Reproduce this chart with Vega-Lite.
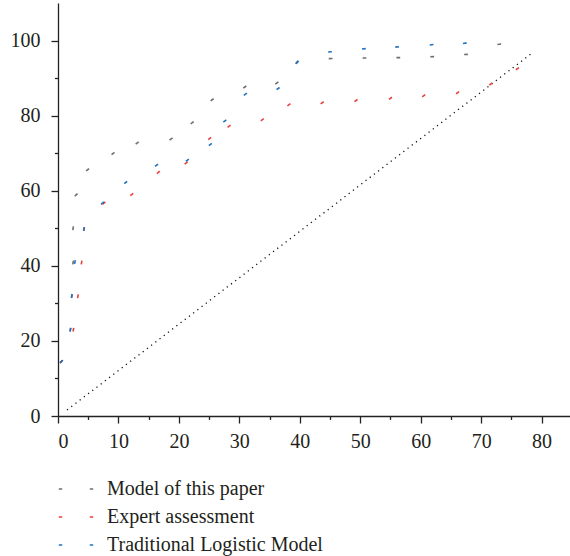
{
  "$schema": "https://vega.github.io/schema/vega-lite/v6.json",
  "description": "Three dashed curves and a dotted diagonal",
  "autosize": {"type": "none"},
  "padding": {"left": 58, "top": 3, "right": 0, "bottom": 140},
  "width": 512,
  "height": 413,
  "datasets": {
    "curves": [
      {"series": "Model of this paper", "x": 0.56, "y": 14.5},
      {"series": "Model of this paper", "x": 2.05, "y": 23.0},
      {"series": "Model of this paper", "x": 2.3, "y": 31.9},
      {"series": "Model of this paper", "x": 2.5, "y": 40.9},
      {"series": "Model of this paper", "x": 2.5, "y": 50.0},
      {"series": "Model of this paper", "x": 3.0, "y": 58.9},
      {"series": "Model of this paper", "x": 4.9, "y": 65.6},
      {"series": "Model of this paper", "x": 9.1, "y": 69.9},
      {"series": "Model of this paper", "x": 13.1, "y": 72.7},
      {"series": "Model of this paper", "x": 18.7, "y": 73.8},
      {"series": "Model of this paper", "x": 22.2, "y": 78.1},
      {"series": "Model of this paper", "x": 25.5, "y": 84.2},
      {"series": "Model of this paper", "x": 30.9, "y": 87.6},
      {"series": "Model of this paper", "x": 36.2, "y": 88.7},
      {"series": "Model of this paper", "x": 39.5, "y": 94.2},
      {"series": "Model of this paper", "x": 45.1, "y": 95.2},
      {"series": "Model of this paper", "x": 50.7, "y": 95.35},
      {"series": "Model of this paper", "x": 56.3, "y": 95.45},
      {"series": "Model of this paper", "x": 61.9, "y": 95.7},
      {"series": "Model of this paper", "x": 67.5, "y": 96.3},
      {"series": "Model of this paper", "x": 73.0, "y": 99.0},
      {"series": "Expert assessment", "x": 0.56, "y": 14.5},
      {"series": "Expert assessment", "x": 2.55, "y": 23.0},
      {"series": "Expert assessment", "x": 3.3, "y": 31.9},
      {"series": "Expert assessment", "x": 3.9, "y": 40.9},
      {"series": "Expert assessment", "x": 4.3, "y": 49.8},
      {"series": "Expert assessment", "x": 7.6, "y": 56.7},
      {"series": "Expert assessment", "x": 12.2, "y": 59.0},
      {"series": "Expert assessment", "x": 16.6, "y": 64.9},
      {"series": "Expert assessment", "x": 21.2, "y": 67.4},
      {"series": "Expert assessment", "x": 25.1, "y": 73.9},
      {"series": "Expert assessment", "x": 28.3, "y": 77.2},
      {"series": "Expert assessment", "x": 33.8, "y": 78.9},
      {"series": "Expert assessment", "x": 38.2, "y": 82.9},
      {"series": "Expert assessment", "x": 43.7, "y": 83.4},
      {"series": "Expert assessment", "x": 49.3, "y": 84.0},
      {"series": "Expert assessment", "x": 55.0, "y": 84.6},
      {"series": "Expert assessment", "x": 60.5, "y": 85.3},
      {"series": "Expert assessment", "x": 66.1, "y": 86.1},
      {"series": "Expert assessment", "x": 71.6, "y": 88.4},
      {"series": "Expert assessment", "x": 76.0, "y": 92.5},
      {"series": "Traditional Logistic Model", "x": 0.56, "y": 14.5},
      {"series": "Traditional Logistic Model", "x": 2.05, "y": 23.0},
      {"series": "Traditional Logistic Model", "x": 2.27, "y": 32.0},
      {"series": "Traditional Logistic Model", "x": 2.8, "y": 41.0},
      {"series": "Traditional Logistic Model", "x": 4.3, "y": 49.8},
      {"series": "Traditional Logistic Model", "x": 7.35, "y": 56.7},
      {"series": "Traditional Logistic Model", "x": 11.2, "y": 62.2},
      {"series": "Traditional Logistic Model", "x": 16.3, "y": 66.8},
      {"series": "Traditional Logistic Model", "x": 21.4, "y": 68.1},
      {"series": "Traditional Logistic Model", "x": 25.2, "y": 72.3},
      {"series": "Traditional Logistic Model", "x": 27.6, "y": 78.6},
      {"series": "Traditional Logistic Model", "x": 31.0, "y": 85.7},
      {"series": "Traditional Logistic Model", "x": 36.4, "y": 87.2},
      {"series": "Traditional Logistic Model", "x": 39.6, "y": 94.2},
      {"series": "Traditional Logistic Model", "x": 45.0, "y": 97.0},
      {"series": "Traditional Logistic Model", "x": 50.6, "y": 97.8},
      {"series": "Traditional Logistic Model", "x": 56.1, "y": 98.3},
      {"series": "Traditional Logistic Model", "x": 61.8, "y": 98.9},
      {"series": "Traditional Logistic Model", "x": 67.3, "y": 99.3}
    ],
    "diagonal": [
      {"x": 1.5, "y": 1.6},
      {"x": 78.6, "y": 96.9}
    ]
  },
  "encoding": {
    "x": {
      "field": "x",
      "type": "quantitative",
      "title": null,
      "scale": {"domain": [0, 84.7], "nice": false, "zero": false},
      "axis": {
        "values": [0, 5, 10, 15, 20, 25, 30, 35, 40, 45, 50, 55, 60, 65, 70, 75, 80],
        "labelExpr": "datum.value % 10 === 0 ? datum.label : ''",
        "tickSize": {"condition": {"test": "datum.value % 10 === 0", "value": 7}, "value": 3.5},
        "labelPadding": 8
      }
    },
    "y": {
      "field": "y",
      "type": "quantitative",
      "title": null,
      "scale": {"domain": [0, 110], "nice": false, "zero": false},
      "axis": {
        "values": [0, 10, 20, 30, 40, 50, 60, 70, 80, 90, 100],
        "labelExpr": "datum.value % 20 === 0 ? datum.label : ''",
        "tickSize": {"condition": {"test": "datum.value % 20 === 0", "value": 7}, "value": 3.5},
        "labelPadding": 11
      }
    }
  },
  "layer": [
    {
      "mark": {"type": "rule", "color": "#222222", "strokeWidth": 1.3},
      "encoding": {
        "x": {"datum": 0, "type": "quantitative"},
        "x2": {"datum": 84.7},
        "y": {"datum": 110, "type": "quantitative"}
      }
    },
    {
      "data": {"name": "diagonal"},
      "mark": {"type": "line", "color": "#111111", "strokeWidth": 1.3, "strokeDash": [1.2, 4.1]}
    },
    {
      "data": {"name": "curves"},
      "mark": {
        "type": "point",
        "shape": "M-1,0L1,0",
        "filled": false,
        "size": 14,
        "strokeWidth": 1.6,
        "opacity": 1
      },
      "encoding": {
        "angle": {
          "field": "y",
          "type": "quantitative",
          "scale": {
            "domain": [14.5, 20, 52, 56, 93, 94.2, 95, 100],
            "range": [135, 100, 100, 140, 145, 130, 180, 170]
          },
          "legend": null
        },
        "color": {
          "field": "series",
          "type": "nominal",
          "scale": {
            "domain": ["Model of this paper", "Expert assessment", "Traditional Logistic Model"],
            "range": ["#6e6e6e", "#e8413c", "#2070c0"]
          },
          "legend": {
            "title": null,
            "orient": "none",
            "legendX": 0,
            "legendY": 468,
            "direction": "vertical",
            "padding": 0,
            "symbolType": "M-1,0L-0.8,0M0.8,0L1,0",
            "symbolSize": 1183,
            "symbolStrokeWidth": 1.5,
            "symbolFillColor": "transparent",
            "labelOffset": 13,
            "rowPadding": -6,
            "labelFont": "Liberation Serif",
            "labelFontSize": 20,
            "labelColor": "#231f20",
            "labelLimit": 400
          }
        }
      }
    }
  ],
  "config": {
    "view": {"stroke": null},
    "axis": {
      "grid": false,
      "domainColor": "#222222",
      "domainWidth": 1.3,
      "tickColor": "#222222",
      "tickWidth": 1.3,
      "labelFont": "Liberation Serif",
      "labelFontSize": 20,
      "labelColor": "#231f20"
    }
  }
}
